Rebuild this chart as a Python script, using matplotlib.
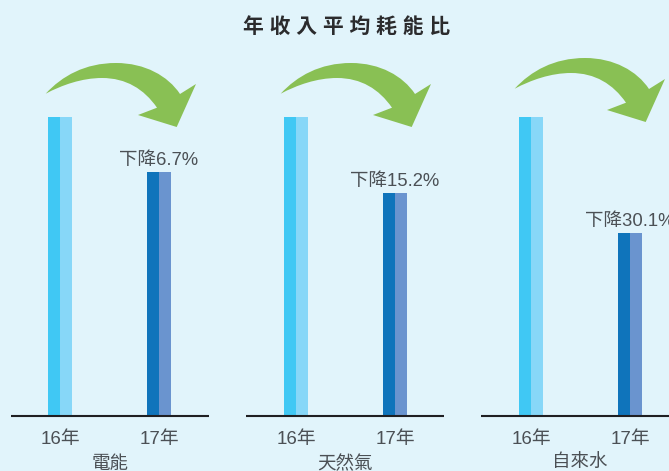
import matplotlib.pyplot as plt
from matplotlib.path import Path
from matplotlib.patches import PathPatch

plt.rcParams['font.family'] = ['Liberation Sans', 'Noto Sans CJK TC', 'DejaVu Sans']

# values, 2016 bar = 100
categories = ['電能', '天然氣', '自來水']
years = ['16年', '17年']
values_16 = [100, 100, 100]
values_17 = [81.5, 74.5, 61]
drop_labels = ['下降6.7%', '下降15.2%', '下降30.1%']
title = '年收入平均耗能比'

W, H = 669, 471
BG = '#e1f4fb'
TEXT = '#4b5055'
LIGHT = ['#40c8f4', '#87d7f8']
DARK = ['#0f74bb', '#6a94cf']
GREEN = '#89c054'

panel_left = [11, 246, 481]
first_bar = [49, 50, 50]
panel_w = 198
base_y = 415.5
top_y = 117.0
arrow_offset = [(0, 0), (235, 0), (469, -5)]

fig = plt.figure(figsize=(W / 100, H / 100), dpi=100, facecolor=BG)

# overlay in pixel coords for the arrows
bg = fig.add_axes([0, 0, 1, 1], zorder=5)
bg.set_xlim(0, W)
bg.set_ylim(H, 0)
bg.axis('off')

verts = [(45.7, 93.7),
         (62, 76), (85, 63), (116, 63),
         (145, 63), (168, 76), (180, 94),
         (196, 84), (176.7, 127), (138, 115), (157, 107.7),
         (144, 89), (126, 78), (102, 78),
         (82, 78), (62, 85), (45.7, 93.7)]
codes = [Path.MOVETO, Path.CURVE4, Path.CURVE4, Path.CURVE4,
         Path.CURVE4, Path.CURVE4, Path.CURVE4,
         Path.LINETO, Path.LINETO, Path.LINETO, Path.LINETO,
         Path.CURVE4, Path.CURVE4, Path.CURVE4,
         Path.CURVE4, Path.CURVE4, Path.CURVE4]

for dx, dy in arrow_offset:
    moved = [(x + dx, y + dy) for x, y in verts]
    bg.add_patch(PathPatch(Path(moved, codes), fc=GREEN, ec='none'))

scale = (base_y - top_y) / 100.0

for i, left in enumerate(panel_left):
    ax = fig.add_axes([left / W, 1 - base_y / H, panel_w / W, (base_y - 40) / H])
    ax.set_facecolor('none')
    ax.set_xlim(0, panel_w)
    ax.set_ylim(0, (base_y - 40) / scale)

    c16 = first_bar[i]
    c17 = c16 + 99
    for c, v, cols in [(c16, values_16[i], LIGHT), (c17, values_17[i], DARK)]:
        ax.bar(c - 6, v, width=12, color=cols[0])
        ax.bar(c + 6, v, width=12, color=cols[1])

    # the last label runs off the right edge in the original too
    ax.text(c17 - 0.5, values_17[i] + 1.2, drop_labels[i], ha='center', va='bottom',
            fontsize=13.3, color=TEXT, clip_on=False)

    ax.set_xticks([c16, c17])
    ax.set_xticklabels(years, fontsize=13.5, color=TEXT)
    ax.tick_params(axis='x', length=0, pad=11)
    ax.set_yticks([])
    for s in ['top', 'left', 'right']:
        ax.spines[s].set_visible(False)
    ax.spines['bottom'].set_linewidth(1.5)
    ax.spines['bottom'].set_color('#1f1f22')
    ax.spines['bottom'].set_capstyle('butt')
    ax.set_xlabel(categories[i], fontsize=13.3, color=TEXT, labelpad=5.5)

fig.text(346.5 / W, 1 - 27 / H, ' '.join(title), ha='center', va='center',
         fontsize=15, fontweight='bold', color='#2b2b2d')

fig.savefig('out.png', dpi=100, facecolor=BG)
